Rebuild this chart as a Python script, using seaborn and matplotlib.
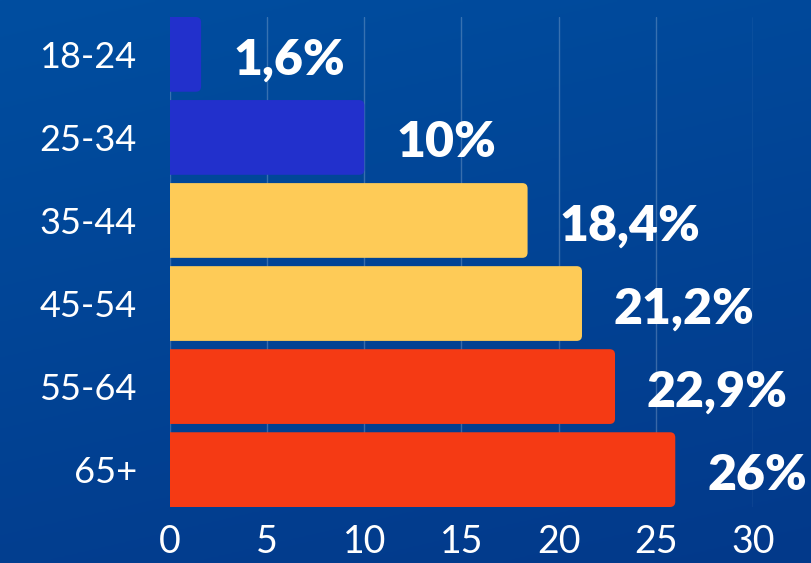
import numpy as np
import pandas as pd
import matplotlib
matplotlib.use("Agg")
import matplotlib.pyplot as plt
import seaborn as sns
from matplotlib.patches import FancyBboxPatch

# --- chart data ---
AGE_GROUPS = ["18-24", "25-34", "35-44", "45-54", "55-64", "65+"]
SHARES = [1.6, 10, 18.4, 21.2, 22.9, 26]
SHARE_LABELS = ["1,6%", "10%", "18,4%", "21,2%", "22,9%", "26%"]
BAR_COLORS = ["#2230CC", "#2230CC", "#FECB57", "#FECB57", "#F53A14", "#F53A14"]
X_TICKS = [0, 5, 10, 15, 20, 25, 30]

df = pd.DataFrame({"age": AGE_GROUPS, "share": SHARES})

sns.set_style("white")
plt.rcParams["font.family"] = ["Lato", "DejaVu Sans"]

fig = plt.figure(figsize=(8.12, 5.63), dpi=100)

# background gradient (dark blue, slightly darker towards bottom)
bg = fig.add_axes([0, 0, 1, 1], zorder=-10)
yy, xx = np.mgrid[0:1:200j, 0:1:200j]
t = 0.75 * yy + 0.25 * xx
top = np.array([0x00, 0x4E, 0xA0]) / 255
bottom = np.array([0x03, 0x39, 0x8A]) / 255
img = top[None, None, :] * (1 - t[..., None]) + bottom[None, None, :] * t[..., None]
bg.imshow(img, aspect="auto", extent=[0, 1, 0, 1], origin="upper")
bg.axis("off")

ax = fig.add_axes([170 / 812, 56 / 563, 583 / 812, 490 / 563])
ax.patch.set_alpha(0)

sns.barplot(data=df, x="share", y="age", hue="age", palette=BAR_COLORS,
            saturation=1, legend=False, width=0.9, ax=ax, zorder=3)

# swap plain bars for rounded ones
radius_x = 0.27
aspect = (19.43 / 81.7)
for p in list(ax.patches):
    x0, y0 = p.get_x(), p.get_y()
    w, h = p.get_width(), p.get_height()
    fc = p.get_facecolor()
    p.remove()
    box = FancyBboxPatch((x0 - 0.5, y0), w + 0.5, h,
                         boxstyle=f"round,pad=0,rounding_size={radius_x}",
                         mutation_aspect=aspect, facecolor=fc,
                         edgecolor="none", zorder=3)
    ax.add_patch(box)

for i, (val, lab) in enumerate(zip(SHARES, SHARE_LABELS)):
    ax.annotate(lab, (val, i), xytext=(23, -4), textcoords="offset points",
                ha="left", va="center", color="white", fontsize=36,
                fontweight="heavy", annotation_clip=False, zorder=5)

ax.set_xlim(0, 30)
ax.set_ylim(5.45, -0.45)
ax.set_xticks(X_TICKS)
ax.set_xticklabels([str(v) for v in X_TICKS])
ax.grid(axis="x", color="white", alpha=0.22, linewidth=1, zorder=0)
ax.grid(axis="y", visible=False)
for s in ax.spines.values():
    s.set_visible(False)
ax.tick_params(axis="x", length=0, pad=12, labelsize=27, colors="white")
ax.tick_params(axis="y", length=0, pad=24, labelsize=26, colors="white")
ax.set_xlabel("")
ax.set_ylabel("")

fig.savefig("out.png", dpi=100)
